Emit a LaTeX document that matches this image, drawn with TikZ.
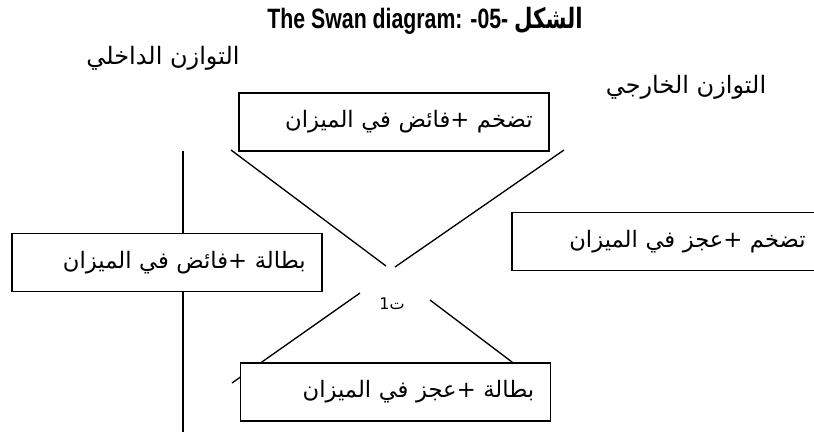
\documentclass[tikz,border=0pt]{standalone}
\usepackage{graphicx}
\usepackage{fontspec}
\setmainfont{Liberation Sans}
\newfontfamily\arabicfont[Script=Arabic]{DejaVu Sans}
\TeXXeTstate=1
\usepackage{tikz}
\usetikzlibrary{positioning}

\begin{document}
\begin{tikzpicture}[x=0.75pt, y=-0.75pt,
	boite/.style={rectangle, draw=black, fill=white, line width=0.8pt, align=right,
	              minimum width=232.5pt, minimum height=43.5pt, text width=208pt,
	              inner xsep=12pt, font=\arabicfont\fontsize{17}{19}\selectfont},
	etiq/.style={font=\arabicfont\fontsize{18}{20}\selectfont},
	trait/.style={draw=black, line width=1pt}
	]
\useasboundingbox (0,0) rectangle (814,432);
\clip (0,0) rectangle (814,432);

\node (titre) at (425,21)
  {\scalebox{0.76}[1]{\bfseries\fontsize{21}{24}\selectfont The Swan diagram: -05- {\arabicfont\beginR الشكل\endR}}};
\node[etiq] (interne) at (163,58) {\beginR التوازن الداخلي\endR};
\node[etiq] (externe) at (686,87) {\beginR التوازن الخارجي\endR};

\coordinate (a1) at (231,150); \coordinate (a2) at (386,266);
\coordinate (b1) at (564,150); \coordinate (b2) at (395,267);
\coordinate (c1) at (360,293); \coordinate (c2) at (232,383);
\coordinate (d1) at (430,300); \coordinate (d2) at (545,387);
\coordinate (v1) at (183,151); \coordinate (v2) at (183,432);
\foreach \p/\q in {a1/a2,b1/b2,c1/c2,d1/d2,v1/v2} \draw[trait] (\p) -- (\q);

\node[boite] (haut)   at (394,122)   {\beginR تضخم +فائض في الميزان\endR};
\node[boite] (gauche) at (167,262.5) {\beginR بطالة +فائض في الميزان\endR};
\node[boite] (droite) at (667,241.5) {\beginR تضخم +عجز في الميزان\endR};
\node[boite] (bas)    at (395.5,392) {\beginR بطالة +عجز في الميزان\endR};

\node[font=\arabicfont\fontsize{12}{13}\selectfont] (t1) at (392,304) {\beginR ت1\endR};
\end{tikzpicture}
\end{document}
